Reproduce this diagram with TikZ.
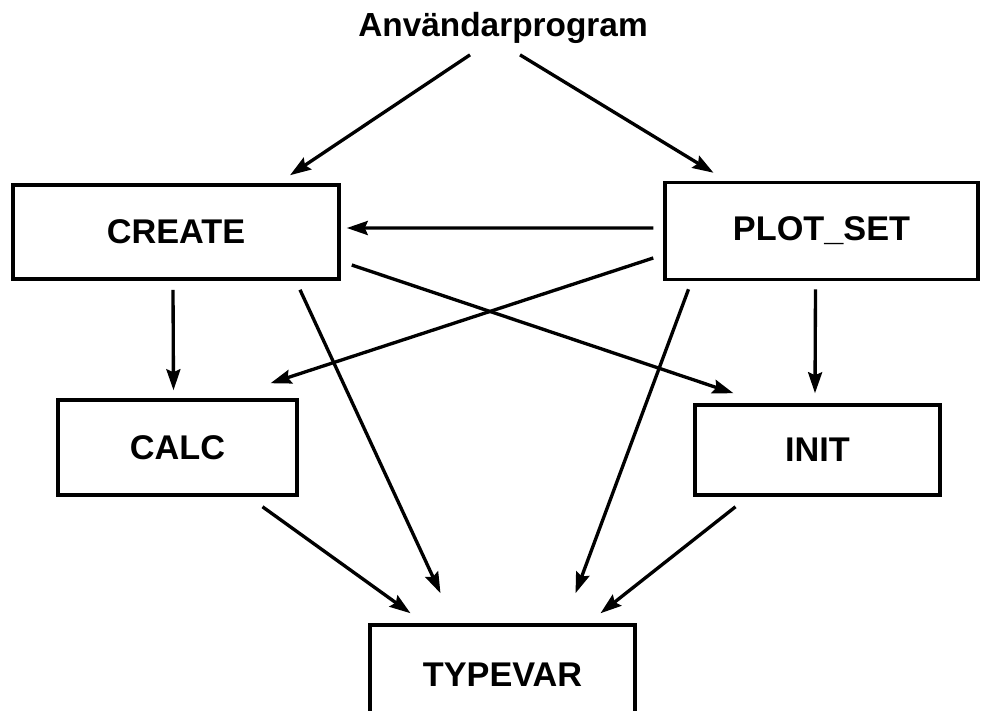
\documentclass[tikz,border=0pt]{standalone}
\usepackage{fontspec}
\setmainfont{Liberation Sans}
\usetikzlibrary{positioning,calc,arrows.meta}

\begin{document}
\begin{tikzpicture}[
		box/.style={draw, line width=2pt, inner sep=0pt, font=\fontsize{19.5}{22}\selectfont\bfseries},
		arr/.style={line width=1.9pt, -{Stealth[length=0.42cm,width=0.28cm,inset=0.06cm]}},
		title/.style={font=\fontsize{19}{22}\selectfont\bfseries}
	]
			\useasboundingbox (0,0) rectangle (19.66,-14.2);
			\node [title] (anv) at (10.06,-0.56) {Användarprogram};
			\node [box, minimum width=6.52cm, minimum height=1.88cm] (create) at (3.52,-4.64) {CREATE};
			\node [box, minimum width=6.26cm, minimum height=1.94cm] (plot) at (16.43,-4.62) {PLOT\_SET};
			\node [box, minimum width=4.78cm, minimum height=1.9cm] (calc) at (3.55,-8.95) {CALC};
			\node [box, minimum width=4.9cm, minimum height=1.8cm] (init) at (16.35,-9.0) {INIT};
			\node [box, minimum width=5.3cm, minimum height=2.0cm] (typevar) at (10.05,-13.5) {TYPEVAR};
			% from the user program
			\draw [arr] ($(anv.south)+(-0.66,-0.1)$) -- ($(create.north)+(2.28,0.16)$);
			\draw [arr] ($(anv.south)+(0.34,-0.1)$) -- ($(plot.north)+(-2.16,0.16)$);
			% second row
			\draw [arr] ($(plot.west)+(-0.2,0.06)$) -- ($(create.east)+(0.12,0.08)$);
			\draw [arr] ($(plot.west)+(-0.2,-0.54)$) -- ($(calc.north)+(1.86,0.3)$);
			\draw [arr] ($(create.east)+(0.22,-0.66)$) -- ($(init.north)+(-1.68,0.2)$);
			\draw [arr] ($(create.south)+(-0.06,-0.18)$) -- ($(calc.north)+(-0.08,0.16)$);
			\draw [arr] ($(plot.south)+(-0.12,-0.16)$) -- ($(init.north)+(-0.05,0.2)$);
			% down to TYPEVAR
			\draw [arr] ($(create.south)+(2.48,-0.18)$) -- ($(typevar.north)+(-1.24,0.6)$);
			\draw [arr] ($(plot.south)+(-2.66,-0.16)$) -- ($(typevar.north)+(1.46,0.6)$);
			\draw [arr] ($(calc.south)+(1.7,-0.2)$) -- ($(typevar.north)+(-1.84,0.2)$);
			\draw [arr] ($(init.south)+(-1.64,-0.2)$) -- ($(typevar.north)+(1.96,0.2)$);
		\end{tikzpicture}
\end{document}
